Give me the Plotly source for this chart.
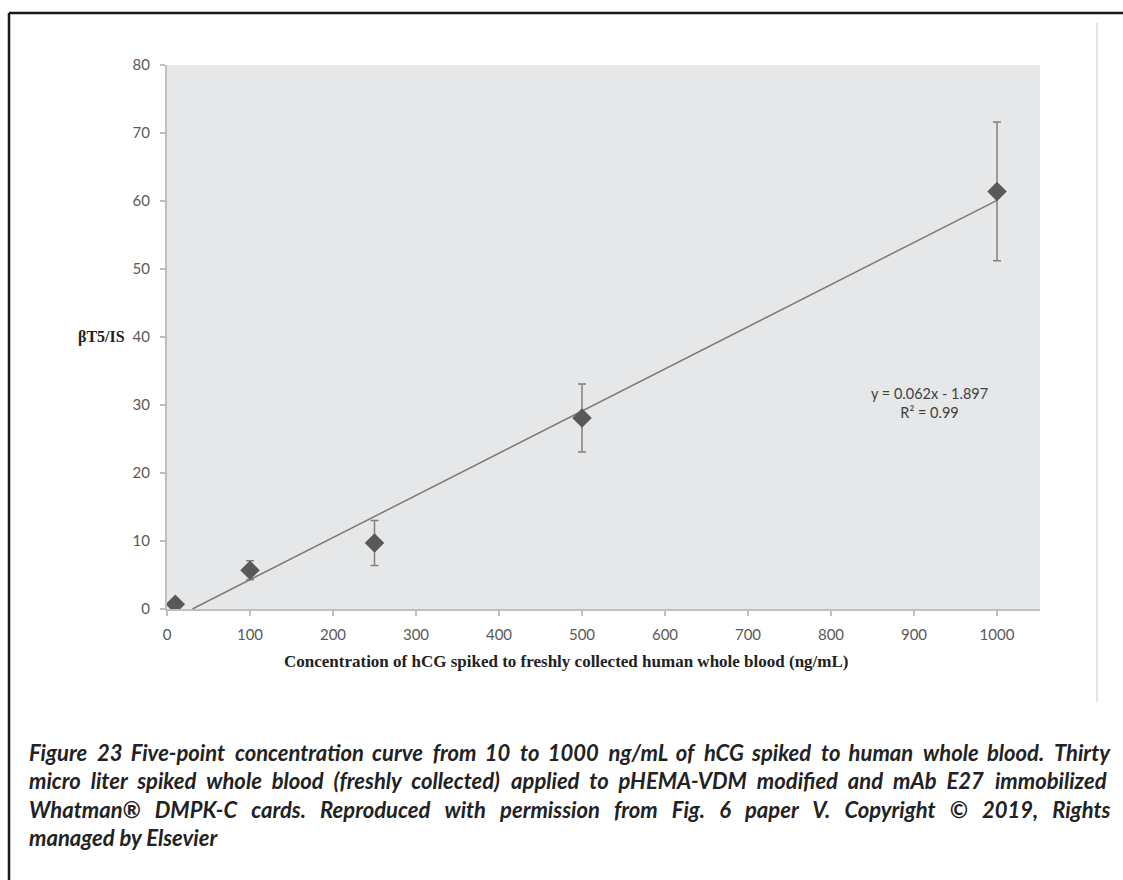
import itertools
import plotly.graph_objects as go

# hCG spiked concentration (ng/mL) and measured ratio βT5/IS with SD
conc = [10, 100, 250, 500, 1000]
ratio = [0.7, 5.7, 9.7, 28.1, 61.4]
sd = [0.0, 1.4, 3.3, 5.0, 10.2]

# linear fit reported on the chart
slope = 0.062
intercept = -1.897
r_squared = 0.99

x_ticks = [0, 100, 200, 300, 400, 500, 600, 700, 800, 900, 1000]
y_ticks = [0, 10, 20, 30, 40, 50, 60, 70, 80]

caption_lines = [
    "Figure 23 Five-point concentration curve from 10 to 1000 ng/mL of hCG spiked to human whole blood. Thirty",
    "micro liter spiked whole blood (freshly collected) applied to pHEMA-VDM modified and mAb E27 immobilized",
    "Whatman® DMPK-C cards. Reproduced with permission from Fig. 6 paper V. Copyright © 2019, Rights",
    "managed by Elsevier",
]
# extra inter-word padding (cycled over the gaps) so the first three lines
# run flush to both margins
caption_pad = [
    ["\u2005", "\u2006"],
    ["\u2005", "\u2005", "\u2005", "\u2005", "\u2005", "\u2005", "\u2005\u200a"],
    ["\u2004\u200a\u200a"],
    [""],
]

W, H = 1123, 880
L, R, T, B = 167, 1040, 65, 609  # plot area in page pixels


def px(x):
    return (x - L) / (R - L)


def py(y):
    return (B - y) / (B - T)


def justify(words, pads):
    cyc = itertools.cycle(pads)
    out = words[0]
    for w in words[1:]:
        out += " " + next(cyc) + w
    return out


fit_x = [-intercept / slope, 1000]
fit_y = [slope * v + intercept for v in fit_x]

fig = go.Figure()
fig.add_trace(go.Scatter(
    x=fit_x, y=fit_y, mode="lines",
    line=dict(color="#7a7a7a", width=1.5),
    hoverinfo="skip", showlegend=False,
))
fig.add_trace(go.Scatter(
    x=conc, y=ratio, mode="markers",
    marker=dict(symbol="diamond", size=15, color="#595959"),
    error_y=dict(type="data", array=sd, visible=True,
                 color="#808080", thickness=1.5, width=4),
    showlegend=False,
))

tick_font = dict(family="Lato, Carlito, sans-serif", size=15, color="#595959")
fig.update_xaxes(
    range=[0, (R - L) / 0.83], tickvals=x_ticks, ticktext=[str(v) for v in x_ticks],
    showgrid=False, zeroline=False, showline=True, linecolor="#bfbfbf", linewidth=2,
    ticks="outside", ticklen=5, tickcolor="#bfbfbf", tickwidth=1.5,
    ticklabelstandoff=6, tickfont=tick_font, fixedrange=True,
)
fig.update_yaxes(
    range=[0, 80], tickvals=y_ticks, ticktext=[str(v) for v in y_ticks],
    showgrid=False, zeroline=False, showline=True, linecolor="#bfbfbf", linewidth=2,
    ticks="outside", ticklen=5, tickcolor="#bfbfbf", tickwidth=1.5,
    ticklabelstandoff=7, tickfont=tick_font, fixedrange=True,
)

annotations = [
    dict(x=px(929), y=py(403), xref="paper", yref="paper",
         xanchor="center", yanchor="middle",
         text=f"y = {slope}x - {abs(intercept)}<br>R² = {r_squared}",
         showarrow=False, align="center",
         font=dict(family="Lato, sans-serif", size=14.5, color="#404040")),
    dict(x=px(127), y=py(337), xref="paper", yref="paper",
         xanchor="right", yanchor="middle",
         text="<b>βT5/IS</b>", showarrow=False,
         font=dict(family="Liberation Serif, Times New Roman, serif", size=16, color="#222")),
    dict(x=px(566), y=py(661), xref="paper", yref="paper",
         xanchor="center", yanchor="middle",
         text="<b>Concentration of hCG spiked to freshly collected human whole blood (ng/mL)</b>",
         showarrow=False,
         font=dict(family="Liberation Serif, Times New Roman, serif", size=17, color="#222")),
]
for i, line in enumerate(caption_lines):
    padded = justify(line.split(" "), caption_pad[i])
    annotations.append(dict(
        x=px(27), y=py(752 + 28.5 * i), xref="paper", yref="paper",
        xanchor="left", yanchor="middle", showarrow=False,
        text=f"<b><i>{padded}</i></b>",
        font=dict(family="Lato, sans-serif", size=22, color="#222"),
    ))

shapes = [
    # page frame
    dict(type="line", xref="paper", yref="paper", x0=px(9), x1=px(W + 5),
         y0=py(13), y1=py(13), line=dict(color="#1a1a1a", width=2.5)),
    dict(type="line", xref="paper", yref="paper", x0=px(9), x1=px(9),
         y0=py(13), y1=py(H + 5), line=dict(color="#1a1a1a", width=2.5)),
    # thin separator on the right
    dict(type="line", xref="paper", yref="paper", x0=px(1097), x1=px(1097),
         y0=py(23), y1=py(702), line=dict(color="#d4d4d4", width=1.2)),
]

fig.update_layout(
    width=W, height=H,
    margin=dict(l=L, r=W - R, t=T, b=H - B, pad=0),
    paper_bgcolor="white", plot_bgcolor="#e6e7e9",
    annotations=annotations, shapes=shapes,
    showlegend=False,
)

fig.write_html("out.html", config={"displayModeBar": False})
